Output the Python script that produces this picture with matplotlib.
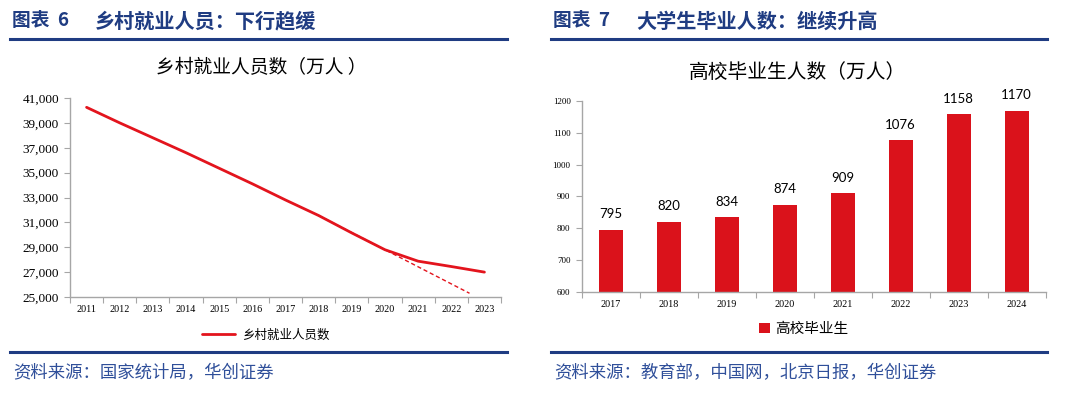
import matplotlib
matplotlib.use("Agg")
from matplotlib import pyplot as plt
from matplotlib.lines import Line2D
from matplotlib.ticker import FuncFormatter, FixedLocator

plt.rcParams["font.family"] = ["Noto Sans CJK SC", "DejaVu Sans"]

# 乡村就业人员 (万人)
rural_years = [2011, 2012, 2013, 2014, 2015, 2016, 2017, 2018, 2019, 2020, 2021, 2022, 2023]
rural_values = [40250, 39000, 37800, 36600, 35350, 34100, 32800, 31550, 30150, 28800, 27880, 27450, 27000]
# dashed trend extension
trend_years = [2018, 2022.55]
trend_values = [31550, 25300]

# 高校毕业生 (万人)
grad_years = [2017, 2018, 2019, 2020, 2021, 2022, 2023, 2024]
grad_values = [795, 820, 834, 874, 909, 1076, 1158, 1170]

RED = "#e3141d"
BAR_RED = "#da121b"
BLUE = "#1f3c82"
AXIS_GRAY = "#a6a6a6"
SERIF = ["Liberation Serif", "DejaVu Serif"]

W, H = 1080, 399
fig = plt.figure(figsize=(W / 100, H / 100), dpi=100)
fig.patch.set_facecolor("white")


def px_axes(x0, y_top, x1, y_bottom):
    return fig.add_axes([x0 / W, 1 - y_bottom / H, (x1 - x0) / W, (y_bottom - y_top) / H])


def hline(x0, x1, y, lw=2.2):
    fig.add_artist(Line2D([x0 / W, x1 / W], [1 - y / H, 1 - y / H], color=BLUE, lw=lw))


def style_axes(ax, first, last):
    for s in ["top", "right"]:
        ax.spines[s].set_visible(False)
    for s in ["left", "bottom"]:
        ax.spines[s].set_color(AXIS_GRAY)
        ax.spines[s].set_linewidth(1.0)
    bounds = [y - 0.5 for y in range(first, last + 2)]
    ax.set_xlim(first - 0.5, last + 0.5)
    ax.xaxis.set_major_locator(FixedLocator(bounds))
    ax.xaxis.set_minor_locator(FixedLocator(list(range(first, last + 1))))
    ax.tick_params(axis="x", which="major", length=4, color=AXIS_GRAY, labelbottom=False)
    ax.tick_params(axis="x", which="minor", length=0, pad=6, labelsize=7.3)
    ax.set_xticklabels([str(y) for y in range(first, last + 1)], minor=True, fontfamily=SERIF)
    ax.tick_params(axis="y", length=4, color=AXIS_GRAY, direction="out")


# ---------- headers / footers ----------
for x0, x1, num, title, src in [
    (10, 507, "6", "乡村就业人员：下行趋缓", "资料来源：国家统计局，华创证券"),
    (551, 1047, "7", "大学生毕业人数：继续升高", "资料来源：教育部，中国网，北京日报，华创证券"),
]:
    fig.text((x0 + 2) / W, 1 - 21 / H, "图表  " + num, fontsize=13.5, fontweight="heavy",
             color=BLUE, va="center", ha="left")
    fig.text((x0 + 85) / W, 1 - 21 / H, title, fontsize=14.5, fontweight="heavy",
             color=BLUE, va="center", ha="left")
    hline(x0, x1, 38.5)
    hline(x0, x1, 351.5)
    fig.text((x0 + 3) / W, 1 - 373 / H, src, fontsize=12.5, color="#2f4f9a",
             va="center", ha="left", style="italic")

# ---------- left: line chart ----------
ax1 = px_axes(70, 98, 501, 297)
ax1.plot(rural_years, rural_values, color=RED, lw=2.0, label="乡村就业人员数", solid_capstyle="round")
ax1.plot(trend_years, trend_values, color=RED, lw=1.0, ls=(0, (3, 2)))
ax1.set_ylim(25000, 41000)
ax1.set_yticks(range(25000, 41001, 2000))
ax1.yaxis.set_major_formatter(FuncFormatter(lambda v, p: f"{int(v):,}"))
style_axes(ax1, rural_years[0], rural_years[-1])
for lab in ax1.get_yticklabels():
    lab.set_fontfamily(SERIF)
ax1.tick_params(axis="y", labelsize=9.5, pad=4)
fig.text(261 / W, 1 - 68 / H, "乡村就业人员数（万人 ）", fontsize=13.5, ha="center", va="center")
ax1.legend(loc="center", bbox_to_anchor=(266 / W, 1 - 335 / H), bbox_transform=fig.transFigure,
           frameon=False, fontsize=9, handlelength=2.6, handletextpad=0.6)

# ---------- right: bar chart ----------
ax2 = px_axes(581.7, 101, 1045.7, 291.7)
bars = ax2.bar(grad_years, grad_values, width=0.41, color=BAR_RED, label="高校毕业生")
ax2.set_ylim(600, 1200)
ax2.set_yticks(range(600, 1201, 100))
style_axes(ax2, grad_years[0], grad_years[-1])
for lab in ax2.get_yticklabels():
    lab.set_fontfamily(SERIF)
ax2.tick_params(axis="y", labelsize=6.5, pad=4)
for b, v in zip(bars, grad_values):
    ax2.annotate(str(v), (b.get_x() + b.get_width() / 2, v), xytext=(0, 7),
                 textcoords="offset points", ha="center", va="bottom",
                 fontsize=9.5, fontfamily=["Lato", "DejaVu Sans"])
fig.text(798 / W, 1 - 72 / H, "高校毕业生人数（万人）", fontsize=14.2, ha="center", va="center")
ax2.legend(loc="center", bbox_to_anchor=(804 / W, 1 - 329 / H), bbox_transform=fig.transFigure,
           frameon=False, fontsize=10.5, handlelength=0.7, handleheight=0.7, handletextpad=0.4)

fig.savefig("out.png", dpi=100)
